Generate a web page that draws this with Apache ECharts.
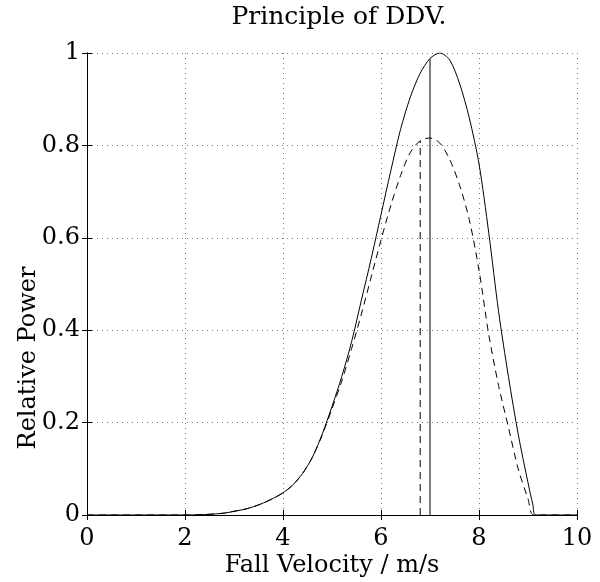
<!DOCTYPE html>
<html>
<head>
<meta charset="utf-8">
<script src="https://cdn.jsdelivr.net/npm/echarts@6/dist/echarts.min.js"></script>
<style>html,body{margin:0;padding:0;background:#fff}#c{width:600px;height:582px}</style>
</head>
<body>
<div id="c"></div>
<script>
// Solid curve: total Doppler power spectrum
const velSolid   = [0, 1, 2, 2.4, 2.8, 3.0, 3.2, 3.4, 3.6, 3.8, 4.0, 4.2, 4.4, 4.6, 4.8, 5.0, 5.2, 5.4, 5.6, 5.8, 6.0, 6.2, 6.4, 6.6, 6.8, 7.0, 7.2, 7.4, 7.6, 7.8, 8.0, 8.2, 8.4, 8.6, 8.8, 9.0, 9.1, 9.16, 10];
const powerSolid = [0, 0, 0, 0.001, 0.004, 0.008, 0.012, 0.018, 0.026, 0.036, 0.048, 0.065, 0.09, 0.125, 0.175, 0.235, 0.3, 0.375, 0.465, 0.555, 0.65, 0.745, 0.835, 0.905, 0.956, 0.988, 1.0, 0.985, 0.935, 0.86, 0.76, 0.61, 0.44, 0.3, 0.175, 0.07, 0.022, 0, 0];
// Dashed curve
const velDashed   = [0, 1, 2, 2.4, 2.8, 3.0, 3.2, 3.4, 3.6, 3.8, 4.0, 4.2, 4.4, 4.6, 4.8, 5.0, 5.2, 5.4, 5.6, 5.8, 6.0, 6.2, 6.4, 6.6, 6.8, 7.0, 7.2, 7.4, 7.6, 7.8, 8.0, 8.2, 8.4, 8.6, 8.8, 9.0, 9.12, 10];
const powerDashed = [0, 0, 0, 0.001, 0.004, 0.008, 0.012, 0.018, 0.026, 0.036, 0.048, 0.065, 0.09, 0.125, 0.173, 0.23, 0.29, 0.36, 0.435, 0.515, 0.595, 0.67, 0.735, 0.785, 0.81, 0.816, 0.805, 0.77, 0.715, 0.64, 0.53, 0.39, 0.28, 0.19, 0.1, 0.035, 0, 0];
// Vertical markers: [velocity, height]
const markSolid  = [7.0, 0.988];
const markDashed = [6.8, 0.81];

const xTicks = [0, 2, 4, 6, 8, 10];
const yTicks = [0, 0.2, 0.4, 0.6, 0.8, 1];

const zip = (xs, ys) => xs.map((x, i) => [x, ys[i]]);
const FONT = '"DejaVu Serif", "Liberation Serif", serif';

const chart = echarts.init(document.getElementById('c'), null, {renderer: 'canvas'});
chart.setOption({
  animation: false,
  backgroundColor: '#fff',
  title: {
    text: 'Principle of DDV.',
    left: 334, top: 0, textAlign: 'center',
    textStyle: {fontFamily: FONT, fontSize: 25, fontWeight: 'normal', color: '#000'}
  },
  grid: {left: 87, right: 23, top: 53, bottom: 67, containLabel: false, outerBoundsMode: 'none'},
  xAxis: [{
    type: 'value', min: xTicks[0], max: xTicks[xTicks.length - 1], interval: 2,
    name: 'Fall Velocity / m/s', nameLocation: 'middle', nameGap: 39, nameMoveOverlap: false,
    nameTextStyle: {fontFamily: FONT, fontSize: 24, color: '#000'},
    axisLine: {lineStyle: {color: '#000', width: 1}},
    axisTick: {inside: true, length: 5, lineStyle: {color: '#000'}},
    axisLabel: {fontFamily: FONT, fontSize: 24, color: '#000', margin: 12},
    splitLine: {show: true, lineStyle: {color: '#777', type: [1, 4], width: 1}}
  }, {
    type: 'value', position: 'top', min: 0, max: 10, interval: 2,
    axisLine: {show: true, lineStyle: {color: '#000', width: 1}},
    axisTick: {inside: true, length: 5, lineStyle: {color: '#000'}},
    axisLabel: {show: false}, splitLine: {show: false}
  }],
  yAxis: [{
    type: 'value', min: yTicks[0], max: yTicks[yTicks.length - 1], interval: 0.2,
    name: 'Relative Power', nameLocation: 'middle', nameGap: 46, nameRotate: 90, nameMoveOverlap: false,
    nameTextStyle: {fontFamily: FONT, fontSize: 24, color: '#000', padding: [0, 148, 0, 0]},
    axisLine: {show: true, lineStyle: {color: '#000', width: 1}},
    axisTick: {inside: true, length: 5, lineStyle: {color: '#000'}},
    axisLabel: {fontFamily: FONT, fontSize: 24, color: '#000', margin: 7},
    splitLine: {show: true, lineStyle: {color: '#777', type: [1, 4], width: 1}}
  }, {
    type: 'value', position: 'right', min: 0, max: 1, interval: 0.2,
    axisLine: {show: true, lineStyle: {color: '#000', width: 1}},
    axisTick: {inside: true, length: 5, lineStyle: {color: '#000'}},
    axisLabel: {show: false}, splitLine: {show: false}
  }],
  series: [{
    type: 'line', data: zip(velSolid, powerSolid), smooth: 0.3, showSymbol: false,
    lineStyle: {color: '#000', width: 1}
  }, {
    type: 'line', data: zip(velDashed, powerDashed), smooth: 0.3, showSymbol: false,
    lineStyle: {color: '#000', width: 1, type: [7, 5]}
  }, {
    type: 'line', data: [[markSolid[0], 0], [markSolid[0], markSolid[1]]], showSymbol: false,
    lineStyle: {color: '#000', width: 1}
  }, {
    type: 'line', data: [[markDashed[0], 0], [markDashed[0], markDashed[1]]], showSymbol: false,
    lineStyle: {color: '#000', width: 1, type: [7, 5]}
  }]
});
</script>
</body>
</html>
